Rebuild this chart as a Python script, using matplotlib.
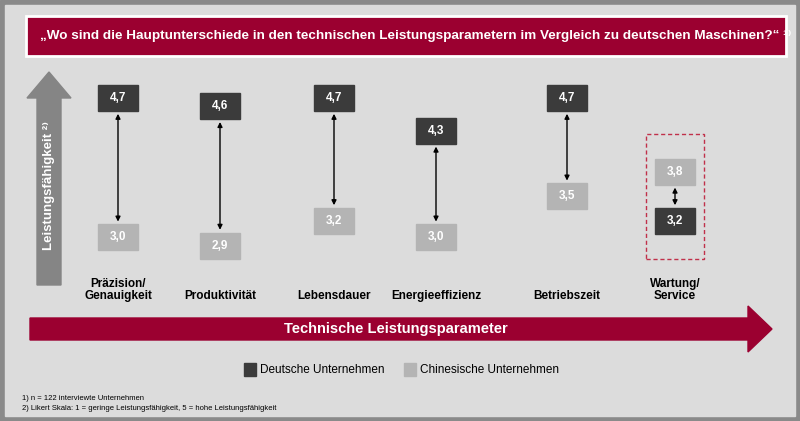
import matplotlib
matplotlib.use("Agg")
import matplotlib.pyplot as plt
from matplotlib.patches import Rectangle, Polygon, FancyArrowPatch
plt.rcParams["font.family"] = ["Liberation Sans", "DejaVu Sans"]

categories = ["Präzision/\nGenauigkeit", "Produktivität", "Lebensdauer", "Energieeffizienz", "Betriebszeit", "Wartung/\nService"]
deutsch = [4.7, 4.6, 4.7, 4.3, 4.7, 3.2]
chinesisch = [3.0, 2.9, 3.2, 3.0, 3.5, 3.8]
xpos = [118, 220, 334, 436, 567, 675]

DARK = "#3b3b3b"; LIGHT = "#b4b4b4"; RED = "#9b0030"
fig = plt.figure(figsize=(8, 4.21), dpi=100)
bg = fig.add_axes([0, 0, 1, 1])
bg.set_xlim(0, 800); bg.set_ylim(421, 0); bg.axis("off")
bg.add_patch(Rectangle((0, 0), 800, 421, color="#8a8a8a"))
bg.add_patch(Rectangle((5, 5), 790, 411, color="#dcdcdc"))
bg.add_patch(Rectangle((26, 16), 760, 40, facecolor=RED, edgecolor="white", lw=2))
bg.text(40, 36, "„Wo sind die Hauptunterschiede in den technischen Leistungsparametern im Vergleich zu deutschen Maschinen?“ ¹⁾",
        color="white", fontsize=9.7, fontweight="bold", va="center")
# vertical arrow
bg.add_patch(Polygon([(37, 285), (37, 98), (27, 98), (49, 72), (71, 98), (61, 98), (61, 285)], color="#858585"))
bg.text(49, 185, "Leistungsfähigkeit ²⁾", rotation=90, color="white", fontsize=9.5, fontweight="bold", ha="center", va="center")
# horizontal arrow
bg.add_patch(Polygon([(30, 318), (748, 318), (748, 306), (772, 329), (748, 352), (748, 340), (30, 340)], color=RED))
bg.text(396, 329, "Technische Leistungsparameter", color="white", fontsize=10.5, fontweight="bold", ha="center", va="center")
for x, c in zip(xpos, categories):
    bg.text(x, 290 if "\n" in c else 296, c, fontsize=8.5, fontweight="bold", ha="center", va="center", linespacing=1.1)
# legend
bg.add_patch(Rectangle((244, 363), 12, 13, color=DARK))
bg.text(260, 370, "Deutsche Unternehmen", fontsize=8.5, va="center")
bg.add_patch(Rectangle((404, 363), 12, 13, color=LIGHT))
bg.text(420, 370, "Chinesische Unternehmen", fontsize=8.5, va="center")
bg.text(22, 398, "1) n = 122 interviewte Unternehmen", fontsize=5.5, va="center")
bg.text(22, 408, "2) Likert Skala: 1 = geringe Leistungsfähigkeit, 5 = hohe Leistungsfähigkeit", fontsize=5.5, va="center")

# data axes: pixel y = 98 + (4.7 - v)*82
S = 82
top, bot = 60, 280
ax = fig.add_axes([0, 1 - bot / 421, 1, (bot - top) / 421])
ax.set_xlim(0, 800)
ax.set_ylim(4.7 - (bot - 98) / S, 4.7 + (98 - top) / S)
ax.axis("off"); ax.patch.set_alpha(0)
bw, bh = 40, 26 / S
for x, d, c in zip(xpos, deutsch, chinesisch):
    for v, col in ((d, DARK), (c, LIGHT)):
        ax.add_patch(Rectangle((x - bw / 2, v - bh / 2), bw, bh, color=col))
        ax.text(x, v, f"{v:.1f}".replace(".", ","), color="white", fontsize=8.5, fontweight="bold", ha="center", va="center")
    hi, lo = max(d, c), min(d, c)
    ax.add_patch(FancyArrowPatch((x, lo + bh / 2), (x, hi - bh / 2), arrowstyle="<|-|>", mutation_scale=7, color="black", lw=1))
i = 5
ax.add_patch(Rectangle((xpos[i] - 29, min(deutsch[i], chinesisch[i]) - bh / 2 - 0.3), 58,
                       abs(deutsch[i] - chinesisch[i]) + bh + 0.6, fill=False, edgecolor="#c0304a", ls=(0, (3, 2)), lw=1))
fig.savefig("out.png", dpi=100)
